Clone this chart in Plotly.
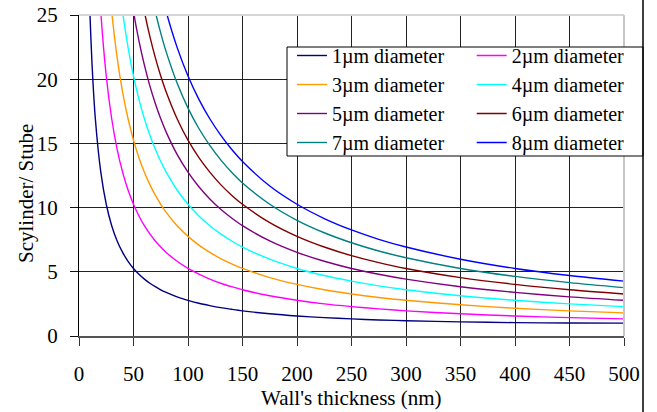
import plotly.graph_objects as go

# Wall thickness (nm)
thickness = [8, 10, 12, 15, 20, 25, 30, 35, 40, 45, 50, 55, 60, 65, 70, 75, 80, 90, 100,
             110, 120, 130, 140, 150, 175, 200, 225, 250, 275, 300, 350, 400, 450, 500]

d1 = [31.50, 25.25, 21.09, 16.92, 12.76, 10.26, 8.59, 7.40, 6.51, 5.82, 5.26, 4.81, 4.43, 4.11,
      3.84, 3.60, 3.40, 3.05, 2.78, 2.55, 2.37, 2.21, 2.08, 1.96, 1.73, 1.56, 1.43, 1.33, 1.25,
      1.19, 1.10, 1.04, 1.01, 1.00]
d2 = [62.75, 50.25, 41.92, 33.58, 25.25, 20.25, 16.92, 14.54, 12.76, 11.37, 10.26, 9.35, 8.59,
      7.95, 7.40, 6.93, 6.51, 5.82, 5.26, 4.81, 4.43, 4.11, 3.84, 3.60, 3.13, 2.78, 2.50, 2.29,
      2.11, 1.96, 1.73, 1.56, 1.43, 1.33]
d3 = [94.00, 75.25, 62.75, 50.25, 37.75, 30.25, 25.25, 21.68, 19.00, 16.92, 15.25, 13.89, 12.76,
      11.79, 10.97, 10.26, 9.63, 8.59, 7.76, 7.08, 6.51, 6.03, 5.62, 5.26, 4.55, 4.02, 3.60, 3.27,
      3.00, 2.78, 2.43, 2.16, 1.96, 1.80]
d4 = [125.25, 100.25, 83.58, 66.92, 50.25, 40.25, 33.58, 28.82, 25.25, 22.48, 20.25, 18.43, 16.92,
      15.64, 14.54, 13.59, 12.76, 11.37, 10.26, 9.35, 8.59, 7.95, 7.40, 6.93, 5.98, 5.26, 4.71,
      4.27, 3.90, 3.60, 3.13, 2.78, 2.50, 2.29]
d5 = [156.50, 125.25, 104.42, 83.58, 62.75, 50.25, 41.92, 35.97, 31.50, 28.03, 25.25, 22.98, 21.09,
      19.48, 18.11, 16.92, 15.88, 14.14, 12.76, 11.62, 10.67, 9.87, 9.19, 8.59, 7.40, 6.51, 5.82,
      5.26, 4.81, 4.43, 3.84, 3.40, 3.05, 2.78]
d6 = [187.75, 150.25, 125.25, 100.25, 75.25, 60.25, 50.25, 43.11, 37.75, 33.58, 30.25, 27.53, 25.25,
      23.33, 21.68, 20.25, 19.00, 16.92, 15.25, 13.89, 12.76, 11.79, 10.97, 10.26, 8.83, 7.76, 6.93,
      6.26, 5.72, 5.26, 4.55, 4.02, 3.60, 3.27]
d7 = [219.00, 175.25, 146.08, 116.92, 87.75, 70.25, 58.58, 50.25, 44.00, 39.14, 35.25, 32.07, 29.42,
      27.18, 25.25, 23.59, 22.13, 19.70, 17.75, 16.16, 14.84, 13.72, 12.76, 11.92, 10.26, 9.01, 8.04,
      7.26, 6.62, 6.09, 5.26, 4.64, 4.16, 3.77]
d8 = [250.25, 200.25, 166.92, 133.58, 100.25, 80.25, 66.92, 57.39, 50.25, 44.70, 40.25, 36.61, 33.58,
      31.02, 28.82, 26.92, 25.25, 22.48, 20.25, 18.43, 16.92, 15.64, 14.54, 13.59, 11.68, 10.26, 9.15,
      8.26, 7.53, 6.93, 5.98, 5.26, 4.71, 4.27]

series_names = ["1\u00b5m diameter", "2\u00b5m diameter", "3\u00b5m diameter", "4\u00b5m diameter",
                "5\u00b5m diameter", "6\u00b5m diameter", "7\u00b5m diameter", "8\u00b5m diameter"]
series_values = [d1, d2, d3, d4, d5, d6, d7, d8]
series_colors = ["#000080", "#FF00FF", "#FF9900", "#00FFFF", "#800080", "#800000", "#008080", "#0000FF"]

x_ticks = [0, 50, 100, 150, 200, 250, 300, 350, 400, 450, 500]
y_ticks = [0, 5, 10, 15, 20, 25]

FONT = "Liberation Serif, Times New Roman, serif"

fig = go.Figure()
for i, (name, vals, col) in enumerate(zip(series_names, series_values, series_colors)):
    fig.add_trace(go.Scatter(
        x=thickness, y=vals, name=name, mode="lines",
        line=dict(color=col, width=1.4, shape="spline", smoothing=0.8),
        legend="legend" if i % 2 == 0 else "legend2",
    ))

W, H = 657, 412
ml, mr, mt, mb = 79, 33, 15, 76
pw, ph = W - ml - mr, H - mt - mb


def px_x(p):
    return (p - ml) / pw


def px_y(p):
    return (H - mb - p) / ph


fig.update_layout(
    width=W, height=H,
    margin=dict(l=ml, r=mr, t=mt, b=mb, pad=0, autoexpand=False),
    paper_bgcolor="white", plot_bgcolor="white",
    font=dict(family=FONT, size=21, color="black"),
    xaxis=dict(range=[0, 500], tickvals=x_ticks, ticks="outside", ticklen=8, tickcolor="#333",
               showgrid=True, gridcolor="#222", gridwidth=1, zeroline=False,
               showline=True, linecolor="#555", linewidth=2, automargin=False,
               tickfont=dict(family=FONT, size=21), ticklabelstandoff=10),
    yaxis=dict(range=[0, 25], tickvals=y_ticks, ticks="outside", ticklen=8, tickcolor="#111",
               showgrid=True, gridcolor="#222", gridwidth=1, zeroline=False,
               showline=True, linecolor="black", linewidth=1, automargin=False,
               tickfont=dict(family=FONT, size=21), ticklabelstandoff=8),
    legend=dict(x=px_x(292), y=px_y(36), xanchor="left", yanchor="top",
                bgcolor="rgba(0,0,0,0)", borderwidth=0,
                font=dict(family=FONT, size=20, color="black")),
    legend2=dict(x=px_x(471.7), y=px_y(36), xanchor="left", yanchor="top",
                 bgcolor="rgba(0,0,0,0)", borderwidth=0,
                 font=dict(family=FONT, size=20, color="black")),
    showlegend=True,
    shapes=[
        # plot area top / right border (light gray)
        dict(type="line", xref="paper", yref="paper", x0=0, x1=1, y0=1, y1=1,
             line=dict(color="#d6d6d6", width=2), layer="above"),
        dict(type="line", xref="paper", yref="paper", x0=1, x1=1, y0=0, y1=1,
             line=dict(color="#c8c8c8", width=2), layer="above"),
        # legend frame
        dict(type="rect", xref="paper", yref="paper",
             x0=px_x(287), x1=px_x(643), y0=px_y(156), y1=px_y(47),
             line=dict(color="black", width=1), fillcolor="white", layer="above"),
        # chart border line at right
        dict(type="line", xref="paper", yref="paper",
             x0=px_x(643), x1=px_x(643), y0=px_y(H), y1=px_y(0),
             line=dict(color="black", width=1.5), layer="above"),
    ],
    annotations=[
        dict(text="Wall's thickness (nm)", xref="paper", yref="paper",
             x=0.5, y=px_y(398), xanchor="center", yanchor="middle", showarrow=False,
             font=dict(family=FONT, size=21, color="black")),
        dict(text="Scylinder/ Stube", xref="paper", yref="paper",
             x=px_x(26), y=px_y(194), xanchor="center", yanchor="middle", showarrow=False,
             textangle=-90, font=dict(family=FONT, size=21, color="black")),
    ],
)

fig.write_html("out.html", config={"displayModeBar": False},
               post_script="document.body.style.margin='0';")
